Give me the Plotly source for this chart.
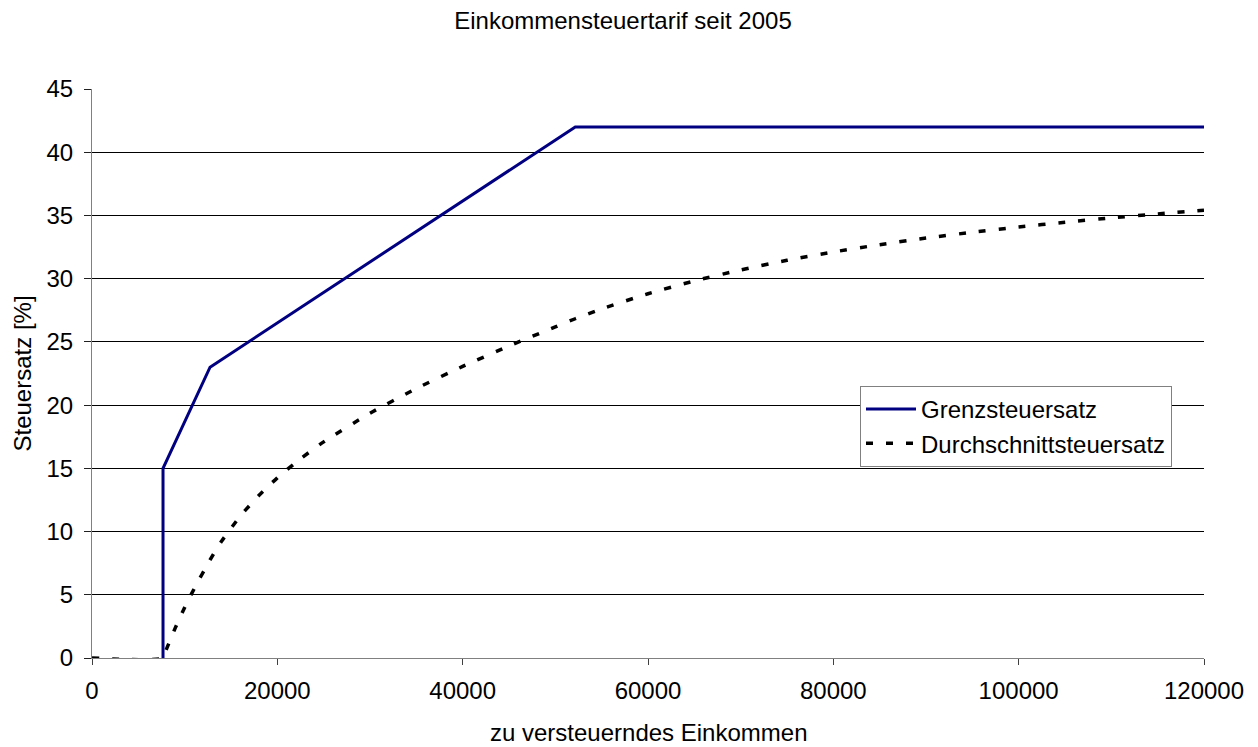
import plotly.graph_objects as go

# Grenzsteuersatz (marginal rate) breakpoints
grenz_x = [7664, 7664, 12739, 52151, 120000]
grenz_y = [0, 15, 23, 42, 42]

# Durchschnittssteuersatz (average rate)
avg_x = [0, 7664, 8000, 9000, 10000, 11000, 12739, 14000, 16000, 18000, 20000,
         22500, 25000, 30000, 35000, 40000, 45000, 50000, 52151, 55000, 60000,
         65000, 70000, 75000, 80000, 85000, 90000, 95000, 100000, 105000,
         110000, 115000, 120000]
avg_y = [0, 0, 0.64, 2.40, 3.99, 5.44, 7.76, 9.25, 11.22, 12.85, 14.25,
         15.76, 17.09, 19.36, 21.31, 23.06, 24.67, 26.19, 26.83, 27.61, 28.81,
         29.82, 30.69, 31.45, 32.11, 32.69, 33.21, 33.67, 34.09, 34.46,
         34.81, 35.12, 35.41]

x_ticks = [0, 20000, 40000, 60000, 80000, 100000, 120000]
y_ticks = [0, 5, 10, 15, 20, 25, 30, 35, 40, 45]

FONT = "Liberation Sans, Arial, sans-serif"
FS = 24

W, H = 1258, 747
L, R, T, B = 92, 54, 89, 89
PW, PH = W - L - R, H - T - B

fig = go.Figure()
fig.add_trace(go.Scatter(
    x=grenz_x, y=grenz_y, mode="lines", name="Grenzsteuersatz",
    line=dict(color="#000080", width=3)))
fig.add_trace(go.Scatter(
    x=avg_x, y=avg_y, mode="lines", name="Durchschnittsteuersatz",
    line=dict(color="#000000", width=3.5, dash="7px,13px", shape="spline",
              smoothing=0.6)))

fig.update_layout(
    width=W, height=H,
    margin=dict(l=L, r=R, t=T, b=B),
    paper_bgcolor="white", plot_bgcolor="white",
    font=dict(family=FONT, size=FS, color="black"),
    title=dict(text="Einkommensteuertarif seit 2005", x=623 / W,
               xanchor="center", y=1 - 21 / H, yanchor="middle",
               font=dict(family=FONT, size=FS, color="black")),
    legend=dict(x=(860 - L) / PW, y=(H - B - 386) / PH,
                xanchor="left", yanchor="top",
                bgcolor="white", bordercolor="#808080", borderwidth=1,
                font=dict(family=FONT, size=FS, color="black"),
                tracegroupgap=0, itemwidth=50),
    showlegend=True,
    annotations=[
        dict(text="zu versteuerndes Einkommen", xref="paper", yref="paper",
             x=0.5, y=(H - B - 732) / PH, xanchor="center", yanchor="middle",
             showarrow=False, font=dict(family=FONT, size=FS, color="black")),
        dict(text="Steuersatz [%]", xref="paper", yref="paper",
             x=(22 - L) / PW, y=0.5, xanchor="center", yanchor="middle",
             textangle=-90, showarrow=False,
             font=dict(family=FONT, size=FS, color="black")),
    ],
)
fig.update_xaxes(
    range=[0, 120000], tickvals=x_ticks, ticktext=[str(v) for v in x_ticks],
    showgrid=False, zeroline=False, showline=True, linecolor="#808080",
    linewidth=1, ticks="outside", ticklen=6, tickcolor="#404040",
    tickfont=dict(family=FONT, size=FS, color="black"),
    ticklabelstandoff=5, automargin=False,
    layer="below traces",
)
fig.update_yaxes(
    range=[0, 45], tickvals=y_ticks, ticktext=[str(v) for v in y_ticks],
    showgrid=True, gridcolor="#000000", gridwidth=1,
    zeroline=False, showline=True, linecolor="#808080", linewidth=1,
    ticks="outside", ticklen=7, tickcolor="#202020",
    tickfont=dict(family=FONT, size=FS, color="black"),
    ticklabelstandoff=6, automargin=False,
    layer="below traces",
)

fig.write_html("out.html", config={"displayModeBar": False},
               post_script="document.body.style.margin='0';document.body.style.overflow='hidden';")
